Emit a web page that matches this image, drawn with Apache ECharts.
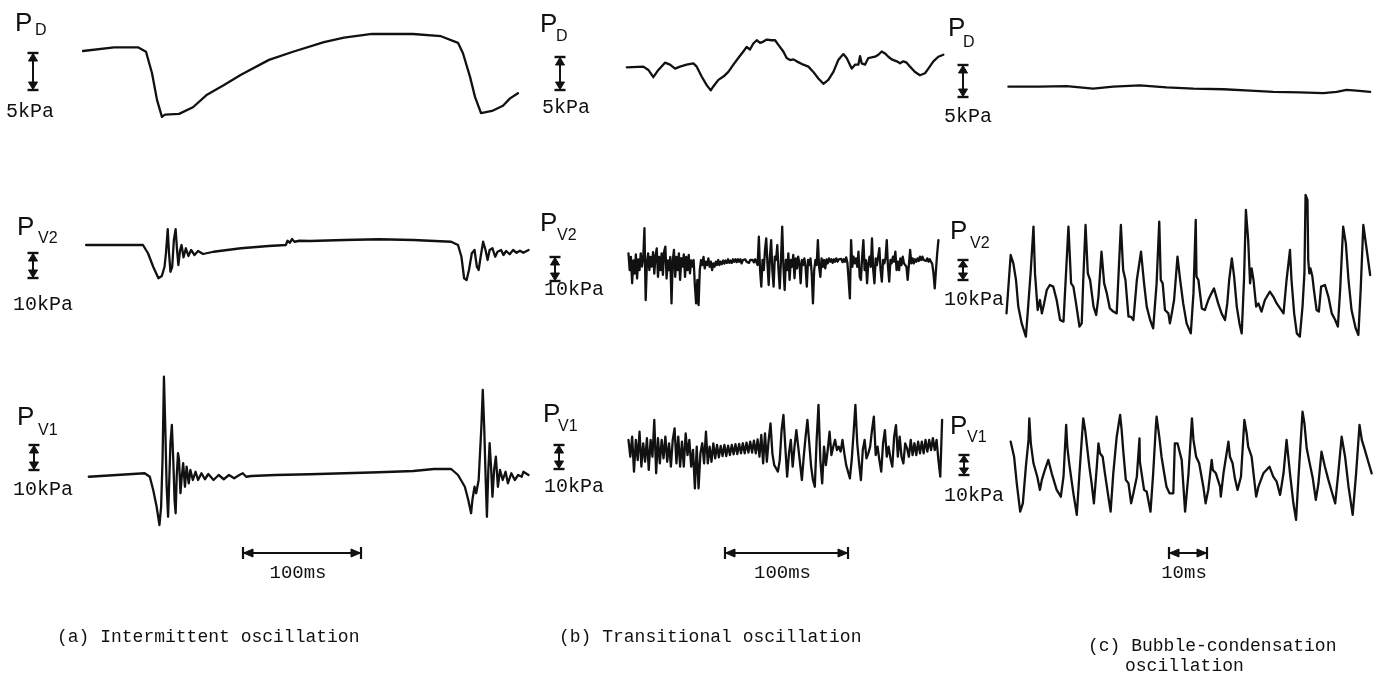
<!DOCTYPE html>
<html>
<head>
<meta charset="utf-8">
<script src="https://cdn.jsdelivr.net/npm/echarts@6/dist/echarts.min.js"></script>
<style>
  html, body { margin: 0; padding: 0; background: #ffffff; }
  #chart { width: 1373px; height: 681px; }
</style>
</head>
<body>
<div id="chart"></div>
<script>
// ---------- (a) Intermittent oscillation : time [ms], pressure [kPa] ----------
const pdA_t = [0,26.3,46.6,53.4,58.5,62.7,66.9,69.5,81.4,93.2,105.1,119.5,133.9,157.6,178.0,204.2,221.2,244.9,279.7,303.4,317.8,322.0,328.0,332.2,337.3,346.6,355.9,361.9,368.6];
const pdA_p = [0,0.5,0.5,-0.1,-3.0,-6.6,-8.9,-8.6,-8.5,-7.6,-5.9,-4.6,-3.2,-1.2,-0.1,1.2,1.8,2.3,2.3,2.0,1.1,-0.3,-3.5,-6.2,-8.4,-8.1,-7.4,-6.4,-5.7];

const pv2A_t = [2.6,50.8,55.1,59.5,63.9,66.8,69.1,70.3,71.8,72.9,74.1,75.6,77.0,78.5,79.7,80.8,82.3,83.5,85.2,87.2,89.3,91.6,94.5,97.5,101.8,110.6,133.9,157.3,171.9,173.3,175.4,177.1,179.2,183.6,192.3,221.5,250.7,279.9,312.0,317.8,320.7,323.0,325.1,327.1,329.5,331.8,333.8,335.3,337.0,339.1,341.1,342.9,344.6,347.0,349.3,351.3,354.3,356.3,358.6,361.6,364.5,367.4,370.3,373.2,377.6];
const pv2A_p = [0,0,-3.3,-8.7,-13.3,-12.4,-8.7,-3.3,6.3,-3.3,-10.7,-8.7,2.0,6.3,-2.0,-8.0,-2.0,0,-4.9,-1.3,-4.4,-2.0,-4.0,-2.4,-3.6,-2.7,-1.3,-0.4,0,1.7,0.9,2.4,1.3,1.7,1.6,2.0,2.3,2.0,1.3,0,-4.7,-13.3,-14.0,-10.0,-3.3,-2.0,-8.7,-10.0,-4.7,1.3,-2.0,-6.0,-2.0,-1.3,-4.7,-2.7,-2.0,-4.0,-2.4,-3.7,-2.0,-3.1,-2.3,-3.1,-2.0];

const pv1A_t = [4.9,52.2,56.6,59.5,62.4,64.8,66.2,67.4,68.6,69.7,70.9,72.1,73.2,74.1,75.3,76.5,77.6,78.5,79.4,80.5,81.4,82.6,83.7,84.9,86.4,87.8,89.6,91.0,93.1,95.4,97.5,100.4,103.3,106.2,110.6,115.0,119.3,123.7,128.1,132.5,135.4,138.3,142.7,163.1,192.3,221.5,250.7,279.9,297.4,312.0,317.8,323.6,326.5,328.9,330.0,331.8,333.2,335.3,337.6,338.8,340.0,341.1,342.3,343.5,344.6,345.8,347.0,348.4,349.9,351.6,353.4,355.7,358.1,360.1,363.0,365.9,368.8,371.8,373.2,377.6];
const pv1A_p = [-0.7,0.7,-0.7,-6.0,-12.7,-20.0,-12.7,6.0,39.3,19.3,-4.7,-16.7,-0.7,12.7,20.0,6.0,-10.0,-15.3,-0.7,8.7,6.0,-7.3,-0.7,4.7,-4.7,3.3,-3.3,2.0,-2.0,1.3,-2.0,0.7,-1.7,0.4,-2.0,0,-1.7,0,-1.3,0,0.7,-0.7,-0.4,0,0.3,0.7,1.1,1.6,2.4,2.4,0,-4.7,-10.0,-15.3,-10.0,-4.7,-7.3,-2.0,19.3,34.0,19.3,0.7,-16.7,2.0,12.7,3.3,-8.7,2.0,7.3,-4.7,2.0,-2.0,1.3,-3.3,0.7,-2.0,0,-0.7,1.3,0];

// ---------- (b) Transitional oscillation ----------
const pdB_t = [0.6,14.1,18.2,22.2,26.3,31.7,35.8,39.9,43.9,49.3,54.8,57.5,61.5,65.6,68.9,71.0,75.1,79.2,83.2,87.3,91.3,95.4,98.1,100.8,103.5,106.3,109.0,111.7,114.4,118.4,121.2,123.9,127.9,130.6,133.4,136.1,138.8,144.2,148.3,152.3,156.4,160.5,164.5,168.6,172.6,176.7,179.4,183.5,186.2,188.9,190.3,191.6,194.3,197.0,199.7,202.5,205.2,207.9,210.6,213.3,216.0,220.1,222.8,225.5,228.2,230.9,235.0,239.0,243.1,245.8,249.9,253.9,258.0];
const pdB_p = [0,0.1,-0.4,-1.5,-0.4,0.7,0.4,-0.2,0.1,0.4,0.6,0.1,-1.4,-2.7,-3.5,-2.9,-1.9,-1.4,-0.7,0.4,1.4,2.4,3.1,2.7,3.6,4.1,3.7,3.9,4.2,4.1,4.1,3.4,2.4,1.4,1.1,1.2,0.9,0.4,0.1,-0.7,-1.7,-2.5,-1.9,-0.7,1.1,2.0,1.4,-0.2,0.4,0.4,1.7,0.6,0.4,1.4,1.5,1.6,1.9,2.4,2.1,1.6,1.2,0.9,0.6,0.9,0.7,0.1,-0.7,-1.2,-0.9,-0.2,0.9,1.6,1.9];

// recorder samples, 1.0 ms apart, first sample at 2 ms
const pv2B_start = 2, pv2B_dt = 1.0;
const pv2B_p = [
  3.5,-3.5,2.0,-9.0,0.5,-5.0,3.0,-7.0,1.0,-3.5,
  3.5,-2.0,1.5,14.0,-16.0,-0.5,3.5,-3.5,2.0,-2.0,
  4.0,-5.0,2.5,5.5,-6.3,2.0,-3.5,3.5,-5.5,4.2,
  6.3,-7.0,0.5,-3.5,2.0,-17.4,0.5,4.9,-6.3,2.0,
  -3.5,3.5,-7.6,1.5,-2.0,3.0,-6.3,2.0,-3.5,2.8,
  -4.9,0.5,-2.0,0.7,-10.0,-17.4,-7.6,-18.1,-3.5,0.7,
  -1.4,2.0,-2.8,0,-1.4,1.4,-2.1,0,-3.5,-0.7,
  -2.1,0,-1.4,0.7,-1.4,0,-1.0,0.5,-0.8,0.5,
  -0.5,1.0,-0.5,0.5,-0.5,1.0,0,1.0,-0.2,1.0,
  0,1.0,-0.7,0.7,0,1.0,0,0.7,-0.5,0.7,
  0,0.7,-0.3,1.0,0.3,-1.4,10.4,-3.5,-10.4,0.7,
  -3.5,4.9,9.7,-0.7,-9.7,2.1,9.0,-3.5,-10.4,2.1,
  0.7,6.9,-3.5,-11.1,0.7,14.6,-2.1,-11.8,0.7,-3.5,
  3.5,-7.6,0.7,-2.1,2.8,-6.9,1.4,-2.8,2.1,-0.7,
  -9.0,0.7,-1.4,1.4,-2.1,-10.4,0.7,-1.4,1.4,-4.9,
  -17.4,-3.5,0.7,-1.4,9.0,-2.1,-6.3,1.4,-2.1,0.7,
  -2.8,1.0,-0.7,1.4,0,1.0,-0.5,1.0,0,1.4,
  0,1.0,0.3,1.2,-0.2,1.0,0,1.8,-0.4,-7.6,
  -15.3,9.0,-2.1,2.1,-0.7,1.4,-2.1,4.2,-6.3,-7.6,
  2.1,9.0,-3.5,0.7,-9.0,-0.7,2.1,-2.1,9.7,-3.5,
  -9.0,1.4,-1.4,2.1,5.6,-3.5,-8.3,0.7,-0.7,1.4,
  9.0,-2.1,-8.3,0.7,-0.7,2.1,0,4.2,-3.5,0,
  -3.5,1.4,-1.4,2.1,-0.7,0,-2.1,-7.6,-1.4,4.9,
  -0.7,1.4,-0.7,1.0,0,1.4,0.3,2.1,0.7,2.1,
  0.7,1.4,0.3,1.4,0,1.0,0,-1.0,-4.9,-11.1,
  -3.5,3.5,9.0
];

// recorder samples, 1.5 ms apart, first sample at 2 ms
const pv1B_start = 2, pv1B_dt = 1.5;
const pv1B_p = [
  4.2,-2.8,5.6,-9.0,4.2,-4.2,7.6,-6.9,2.8,-4.9,
  4.9,-8.3,4.2,-2.8,12.5,-9.7,4.9,-5.6,4.2,-3.5,
  5.6,-4.9,2.8,-6.9,4.2,9.0,-5.6,5.6,-6.9,3.5,
  -6.9,6.9,-2.1,4.2,-6.9,0,-16.0,1.4,-16.0,-1.4,
  2.8,-5.6,7.6,-5.6,1.4,-4.9,2.8,-3.5,2.1,-3.1,
  1.7,-2.5,2.1,-2.5,1.8,-2.1,2.1,-1.8,2.4,-1.7,
  2.5,-1.4,2.8,-1.4,3.1,-1.1,3.5,-1.1,3.9,-1.4,
  4.4,-2.8,6.3,-5.6,6.9,-4.9,4.2,11.1,-1.4,-6.3,
  -7.6,-9.0,-4.2,8.3,14.6,1.4,-11.1,-1.4,4.2,-6.9,
  1.4,8.3,1.4,-5.6,-12.5,-2.8,5.6,12.5,2.8,-6.9,
  -12.5,-15.3,4.2,18.8,-4.2,-13.9,1.4,-6.3,0,7.6,
  -2.1,1.4,4.2,0,1.4,-0.7,4.2,-1.4,-6.3,-9.0,
  -11.8,-4.2,6.9,18.8,2.8,-5.6,-12.5,0,4.2,-3.5,
  -1.4,1.4,8.3,13.9,-2.1,1.4,-4.2,-9.0,2.8,8.3,
  -2.8,1.4,-3.5,-6.9,5.6,10.4,-2.8,5.6,-2.8,-5.6,
  2.8,0.7,-2.8,4.2,-2.1,2.8,-2.1,3.5,-1.4,3.5,
  -1.4,4.2,-0.7,4.2,0,4.9,0,4.2,-4.2,-11.1,
  12.5
];

// ---------- (c) Bubble-condensation oscillation ----------
const pdC_t = [0.5,8.8,15.8,22.8,28.1,35.1,42.1,49.2,57.1,64.1,70.2,77.2,83.4,86.9,89.5,92.1,95.7];
const pdC_p = [0,0,0.1,-0.3,0,0.2,-0.1,-0.3,-0.4,-0.6,-0.8,-0.9,-1.0,-0.8,-0.5,-0.6,-0.8];

const pv2C_t = [0.0,1.1,1.8,2.5,3.1,4.0,5.1,5.7,6.4,7.1,7.5,8.2,8.8,9.3,9.9,10.6,11.4,12.3,13.2,14.1,15.0,16.3,17.0,17.6,18.3,19.2,19.8,20.2,20.8,21.4,22.0,22.9,23.6,24.2,25.0,25.7,26.4,27.2,28.1,29.0,30.1,30.7,31.3,32.1,32.7,33.4,34.3,35.4,36.2,36.9,37.8,38.6,39.5,40.2,40.6,41.1,41.7,42.6,43.0,43.5,44.1,45.0,45.7,46.5,47.4,48.5,49.2,49.8,50.0,50.5,51.4,52.2,53.1,53.7,54.6,55.7,56.6,57.5,58.1,58.6,59.3,59.9,60.6,61.3,61.9,62.5,63.0,63.6,64.1,64.5,65.0,65.7,66.3,67.1,68.0,69.3,70.2,71.1,72.0,72.9,73.7,74.6,75.0,75.7,76.4,77.2,77.9,78.4,78.7,79.2,79.4,79.7,80.0,80.5,80.9,81.6,82.2,82.8,83.8,84.7,85.6,86.5,87.2,87.8,88.6,89.3,90.0,90.8,91.9,92.6,93.2,93.9,94.8,95.7];
const pv2C_p = [-11.7,17.5,13.3,5.0,-8.3,-16.7,-23.3,-8.3,10.0,31.7,8.3,-10.0,-5.0,-11.7,-6.7,0,2.5,1.7,-5.0,-15.0,-15.8,31.7,3.3,1.7,-6.7,-18.3,-16.7,5.0,32.5,8.3,5.0,-8.3,-12.5,-3.3,19.2,3.3,-1.7,-9.2,-10.8,-11.7,32.5,10.0,5.0,-13.3,-13.3,-15.0,5.0,19.2,3.3,-8.3,-15.0,-19.2,3.3,34.2,5.0,3.3,-10.0,-11.7,-16.7,-11.7,-5.0,16.7,5.0,-6.7,-16.7,-21.7,-1.7,35.0,6.7,5.0,-9.2,-10.0,-5.0,-2.5,0.8,-6.7,-11.7,-15.0,-6.7,5.0,15.8,6.7,-8.3,-16.7,-21.7,5.0,40.0,25.0,3.3,10.8,5.0,-8.3,-6.7,-10.8,-5.0,-0.8,-3.3,-6.7,-9.2,-11.7,5.0,20.0,5.0,-11.7,-21.7,-23.3,-8.3,8.3,47.5,45.0,15.0,8.3,10.8,6.7,0,-10.0,-10.8,1.7,2.5,-3.3,-11.7,-15.0,-18.3,0,31.7,23.3,5.0,-10.0,-19.2,-22.5,0,32.5,20.0,7.5];

const pv1C_t = [1.1,2.0,2.7,3.6,4.3,5.1,5.8,6.0,6.4,7.1,8.1,8.8,9.3,10.1,11.0,11.9,13.2,14.3,15.0,15.7,16.0,16.5,17.1,17.6,18.5,19.2,19.8,20.2,20.7,21.1,21.8,22.4,23.0,23.7,24.2,24.6,25.3,25.9,26.8,27.4,28.1,29.0,29.9,30.3,30.7,31.4,32.1,32.8,33.4,34.3,35.0,35.1,35.6,36.2,36.9,37.9,38.6,39.3,39.5,40.2,40.8,41.5,42.1,42.9,43.9,44.3,45.0,46.1,47.0,47.9,48.8,49.2,49.9,50.7,51.8,52.4,53.1,54.0,54.3,55.1,56.2,56.4,57.1,58.4,58.8,59.5,60.1,60.8,61.7,62.6,63.2,63.6,64.5,65.7,66.3,67.6,69.2,70.2,71.1,72.0,72.9,73.7,74.6,75.5,76.2,76.8,77.9,78.4,79.0,79.6,80.6,81.4,82.1,82.9,83.8,84.7,85.6,86.5,87.3,88.2,89.1,90.0,91.1,92.0,92.9,93.5,94.3,95.2,96.1];
const pv1C_p = [15.8,8.3,-5.0,-19.2,-15.0,3.3,16.7,27.5,15.0,5.0,-1.7,-8.3,-3.3,1.7,6.7,0,-8.3,-11.7,-1.7,24.2,13.3,5.0,-3.3,-10.0,-20.8,0,16.7,27.5,21.7,15.0,3.3,-5.0,-15.0,1.7,15.0,10.0,8.3,0,-11.7,-19.2,0,18.3,29.2,21.7,11.7,-3.3,-5.0,-15.0,-10.0,-1.7,17.5,5.8,6.7,-8.3,-9.2,-19.2,0,23.3,28.3,18.3,8.3,0,-6.7,-10.0,-10.0,15.0,15.0,6.7,-19.2,0,27.5,16.7,8.3,5.0,-6.7,-15.0,-8.3,6.7,1.7,0,-6.7,-11.7,0,15.8,8.3,5.0,-2.5,-8.3,-1.7,26.7,20.0,13.3,8.3,-11.7,-6.7,0,3.3,-1.7,-4.2,-10.8,0,16.7,0,-15.0,-23.3,-3.3,30.8,25.0,12.5,6.7,-2.5,-13.3,-5.0,10.8,3.3,-3.3,-9.2,-15.0,0,18.3,8.3,-6.7,-20.8,0,24.2,16.7,11.7,5.8,0];

// ---------- text ----------
const captions = ['(a) Intermittent oscillation', '(b) Transitional oscillation', '(c) Bubble-condensation', 'oscillation'];
const timeScaleMs = [100, 100, 10];
const timeScaleText = ['100ms', '100ms', '10ms'];
const pressureScaleKPa = [5, 10, 10];
const pressureScaleText = ['5kPa', '10kPa', '10kPa'];
const signalMain = 'P';
const signalSub = ['D', 'V2', 'V1'];

// ---------- helpers ----------
const zip = (t, p) => t.map((v, i) => [v, p[i]]);
const sampled = (start, dt, p) => p.map((v, i) => [+(start + i * dt).toFixed(2), v]);

// layout of each recorder channel: origin (px), px per ms, span (ms), zero line (px), px per kPa, range up/down (kPa)
const channels = [
  { data: zip(pdA_t, pdA_p),   x0: 83,     msPx: 1.18, span: 380, y0: 51,    kPx: 7.4, up: 4,  down: 11, row: 0, col: 0 },
  { data: zip(pv2A_t, pv2A_p), x0: 83,     msPx: 1.18, span: 380, y0: 245,   kPx: 2.5, up: 10, down: 18, row: 1, col: 0 },
  { data: zip(pv1A_t, pv1A_p), x0: 83,     msPx: 1.18, span: 380, y0: 475,   kPx: 2.5, up: 42, down: 24, row: 2, col: 0 },
  { data: zip(pdB_t, pdB_p),   x0: 626,    msPx: 1.23, span: 262, y0: 67.3,  kPx: 6.6, up: 6,  down: 5,  row: 0, col: 1 },
  { data: sampled(pv2B_start, pv2B_dt, pv2B_p), x0: 626, msPx: 1.23, span: 262, y0: 261.7, kPx: 2.4, up: 18, down: 22, row: 1, col: 1 },
  { data: sampled(pv1B_start, pv1B_dt, pv1B_p), x0: 626, msPx: 1.23, span: 262, y0: 450,   kPx: 2.4, up: 22, down: 20, row: 2, col: 1 },
  { data: zip(pdC_t, pdC_p),   x0: 1006.5, msPx: 3.8,  span: 97,  y0: 86.7,  kPx: 6.4, up: 3,  down: 3,  row: 0, col: 2 },
  { data: zip(pv2C_t, pv2C_p), x0: 1006.5, msPx: 3.8,  span: 97,  y0: 290,   kPx: 2.0, up: 52, down: 28, row: 1, col: 2 },
  { data: zip(pv1C_t, pv1C_p), x0: 1006.5, msPx: 3.8,  span: 97,  y0: 473.3, kPx: 2.0, up: 35, down: 28, row: 2, col: 2 }
];

const grids = [], xAxes = [], yAxes = [], series = [];
channels.forEach((c, i) => {
  grids.push({ left: c.x0, top: c.y0 - c.up * c.kPx, width: c.span * c.msPx, height: (c.up + c.down) * c.kPx, outerBoundsMode: 'none' });
  xAxes.push({ gridIndex: i, type: 'value', min: 0, max: c.span, show: false });
  yAxes.push({ gridIndex: i, type: 'value', min: -c.down, max: c.up, show: false });
  series.push({
    type: 'line', xAxisIndex: i, yAxisIndex: i, data: c.data,
    symbol: 'none', showSymbol: false, clip: false, silent: true,
    lineStyle: { color: '#111111', width: 2.3, join: 'round', cap: 'round' }
  });
});

const chart = echarts.init(document.getElementById('chart'), null, { renderer: 'canvas' });
chart.setOption({
  backgroundColor: '#ffffff',
  animation: false,
  grid: grids, xAxis: xAxes, yAxis: yAxes, series: series
});

// ---------- scale marks, labels and captions ----------
const INK = '#111111';
const MONO = '"Liberation Mono", "DejaVu Sans Mono", monospace';
const SANS = '"Liberation Sans", Arial, sans-serif';
const g = [];

function text(str, x, y, size, family, align) {
  g.push({ type: 'text', x: x, y: y, silent: true,
    style: { text: str, fill: INK, font: size + 'px ' + family, align: align || 'left', verticalAlign: 'middle' } });
}
function seg(x1, y1, x2, y2, w) {
  g.push({ type: 'line', silent: true, shape: { x1: x1, y1: y1, x2: x2, y2: y2 }, style: { stroke: INK, lineWidth: w } });
}
function tri(points) {
  g.push({ type: 'polygon', silent: true, shape: { points: points }, style: { fill: INK, stroke: INK, lineWidth: 1 } });
}
// vertical double arrow with end caps
function vArrow(x, top, len) {
  const b = top + len, h = Math.min(8, len * 0.35);
  seg(x - 5.5, top, x + 5.5, top, 2.4);
  seg(x - 5.5, b, x + 5.5, b, 2.4);
  seg(x, top, x, b, 2);
  tri([[x, top + 0.5], [x - 4.5, top + h], [x + 4.5, top + h]]);
  tri([[x, b - 0.5], [x - 4.5, b - h], [x + 4.5, b - h]]);
}
// horizontal double arrow with end ticks
function hArrow(left, y, len) {
  const r = left + len, h = Math.min(10, len * 0.3);
  seg(left, y - 6, left, y + 6, 2.2);
  seg(r, y - 6, r, y + 6, 2.2);
  seg(left, y, r, y, 1.8);
  tri([[left + 0.5, y], [left + h, y - 4], [left + h, y + 4]]);
  tri([[r - 0.5, y], [r - h, y - 4], [r - h, y + 4]]);
}
function kPaLength(gridIndex, kPa) {
  const a = chart.convertToPixel({ gridIndex: gridIndex }, [0, 0]);
  const b = chart.convertToPixel({ gridIndex: gridIndex }, [0, kPa]);
  return Math.abs(a[1] - b[1]);
}
function msLength(gridIndex, ms) {
  const a = chart.convertToPixel({ gridIndex: gridIndex }, [0, 0]);
  const b = chart.convertToPixel({ gridIndex: gridIndex }, [ms, 0]);
  return Math.abs(b[0] - a[0]);
}

// channel label blocks: P + subscript, pressure arrow, pressure text
const labelPos = [
  // [Px, Pcy, subX, subCy, arrowX, arrowTop, kPaX, kPaCy]
  [15, 24, 35, 31, 33, 53, 6, 112],
  [17, 228, 38, 239, 33, 253, 13, 305],
  [17, 418, 38, 431, 34, 445, 13, 490],
  [540, 25, 556, 37, 560, 57, 542, 108],
  [540, 224, 557, 236, 555, 257, 544, 290],
  [543, 415, 558, 427, 559, 445, 544, 487],
  [948, 29, 963, 43, 963, 65, 944, 117],
  [950, 232, 970, 244, 963, 260, 944, 300],
  [950, 427, 967, 438, 964, 455, 944, 496]
];
channels.forEach((c, i) => {
  const L = labelPos[i];
  text(signalMain, L[0], L[1], 26, SANS);
  text(signalSub[c.row], L[2], L[3], 16, SANS);
  vArrow(L[4], L[5], kPaLength(i, pressureScaleKPa[c.row]));
  text(pressureScaleText[c.row], L[6], L[7], 20, MONO);
});

// time scale bars, one per column (measured on the bottom channel of each column)
const barLeft = [243, 725, 1169];
[2, 5, 8].forEach((gi, col) => {
  const len = msLength(gi, timeScaleMs[col]);
  hArrow(barLeft[col], 553, len);
  text(timeScaleText[col], barLeft[col] + len / 2 - 4, 573, 19, MONO, 'center');
});

// captions
text(captions[0], 57, 637, 18, MONO);
text(captions[1], 559, 637, 18, MONO);
text(captions[2], 1088, 646, 18, MONO);
text(captions[3], 1125, 666, 18, MONO);

chart.setOption({ graphic: { elements: g } });
</script>
</body>
</html>
